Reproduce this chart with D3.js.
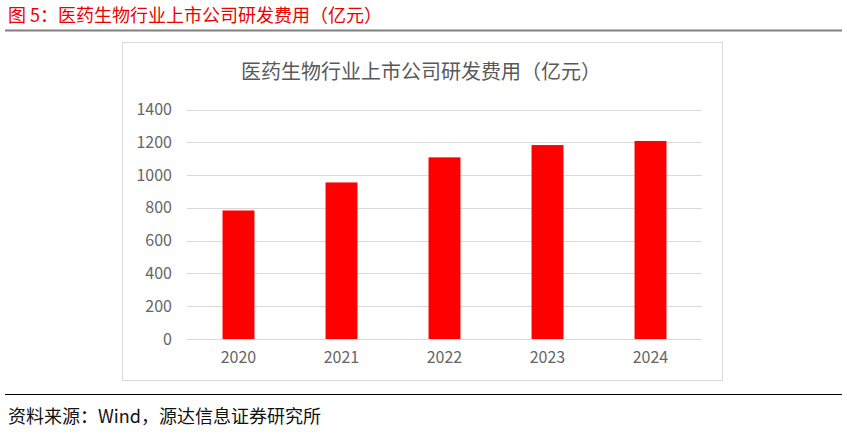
<!DOCTYPE html>
<html>
<head>
<meta charset="utf-8">
<script src="https://cdn.jsdelivr.net/npm/d3@7/dist/d3.min.js"></script>
<style>
  html, body { margin: 0; padding: 0; background: #fff; }
  svg { display: block; }
  text { font-family: "Noto Sans CJK SC", "Noto Sans", sans-serif; }
</style>
</head>
<body>
<svg id="chart" width="847" height="434"></svg>
<script>
const figureTitle = "图 5：医药生物行业上市公司研发费用（亿元）";
const chartTitle = "医药生物行业上市公司研发费用（亿元）";
const sourceText = "资料来源：Wind，源达信息证券研究所";
const years = ["2020", "2021", "2022", "2023", "2024"];
const rdExpense = [784, 955, 1108, 1183, 1208];
const yTicks = [0, 200, 400, 600, 800, 1000, 1200, 1400];

const svg = d3.select("#chart");

// Figure header
svg.append("text")
  .attr("x", 8).attr("y", 21.5)
  .attr("font-size", 18)
  .attr("fill", "#ee0000")
  .text(figureTitle);
svg.append("line")
  .attr("x1", 5).attr("x2", 842).attr("y1", 30.5).attr("y2", 30.5)
  .attr("stroke", "#808080").attr("stroke-width", 2);

// Chart frame
svg.append("rect")
  .attr("x", 122.5).attr("y", 42.5).attr("width", 600).attr("height", 338)
  .attr("fill", "#fff").attr("stroke", "#d9d9d9").attr("stroke-width", 1);

svg.append("text")
  .attr("x", 421).attr("y", 79)
  .attr("text-anchor", "middle")
  .attr("font-size", 20)
  .attr("fill", "#595959")
  .text(chartTitle);

const x = d3.scaleBand().domain(years).range([187, 702])
  .paddingInner(0.69).paddingOuter(0.345);
const y = d3.scaleLinear().domain([0, 1400]).range([339, 109.5]);

// Gridlines
svg.append("g").selectAll("line").data(yTicks).join("line")
  .attr("x1", 187).attr("x2", 702)
  .attr("y1", d => Math.round(y(d)) + 0.5).attr("y2", d => Math.round(y(d)) + 0.5)
  .attr("stroke", "#d9d9d9").attr("stroke-width", 1);

// Bars
svg.append("g").selectAll("rect").data(years).join("rect")
  .attr("x", d => x(d))
  .attr("width", x.bandwidth())
  .attr("y", (d, i) => y(rdExpense[i]))
  .attr("height", (d, i) => y(0) - y(rdExpense[i]))
  .attr("fill", "#ff0000");

// Y axis labels
const yAxis = d3.axisLeft(y).tickValues(yTicks).tickSize(0).tickPadding(0).tickFormat(d3.format("d"));
const gy = svg.append("g").attr("transform", "translate(172,0)").call(yAxis);
gy.select(".domain").remove();
gy.selectAll("text").attr("font-size", 16).attr("fill", "#666666")
  .attr("font-family", "'Noto Sans CJK SC', sans-serif");

// X axis labels
const xAxis = d3.axisBottom(x).tickSize(0).tickPadding(0);
const gx = svg.append("g").attr("transform", "translate(0,352)").call(xAxis);
gx.select(".domain").remove();
gx.selectAll("text").attr("font-size", 16).attr("fill", "#666666")
  .attr("font-family", "'Noto Sans CJK SC', sans-serif");

// Footer
svg.append("line")
  .attr("x1", 5).attr("x2", 842).attr("y1", 394.5).attr("y2", 394.5)
  .attr("stroke", "#000").attr("stroke-width", 1);
svg.append("text")
  .attr("x", 8).attr("y", 423)
  .attr("font-size", 18)
  .attr("fill", "#111")
  .text(sourceText);
</script>
</body>
</html>
